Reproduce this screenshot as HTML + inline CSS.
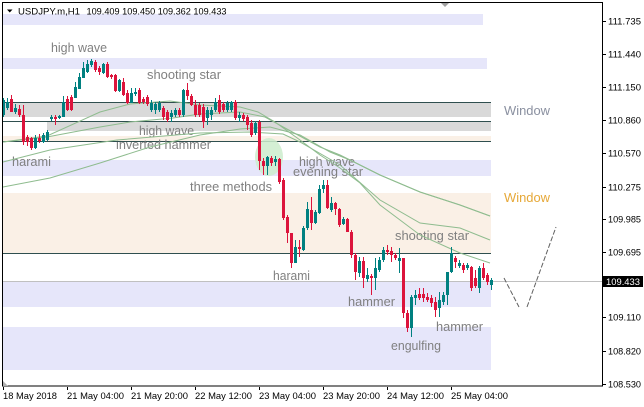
<!DOCTYPE html>
<html><head><meta charset="utf-8"><style>
html,body{margin:0;padding:0;background:#fff;}
svg{display:block;}
</style></head><body>
<svg width="644" height="407" viewBox="0 0 644 407" xmlns="http://www.w3.org/2000/svg">
<rect x="0" y="0" width="644" height="407" fill="#fff"/>
<!-- bands -->
<rect x="3" y="14" width="480" height="11" fill="#e6e6fa"/>
<rect x="3" y="58" width="484" height="11" fill="#e6e6fa"/>
<rect x="3" y="102" width="488" height="15" fill="#d9d9d9"/>
<rect x="47" y="122" width="444" height="9" fill="#d9d9d9"/>
<rect x="3" y="136" width="488" height="5" fill="#faf0e6"/>
<rect x="3" y="160" width="488" height="16" fill="#e6e6fa"/>
<rect x="3" y="193" width="488" height="60" fill="#faf0e6"/>
<rect x="3" y="282" width="488" height="25" fill="#e6e6fa"/>
<rect x="3" y="327" width="488" height="43" fill="#e6e6fa"/>
<!-- dark lines -->
<g stroke="#2f4f4f" stroke-width="1">
<line x1="3" y1="102.5" x2="491" y2="102.5"/>
<line x1="3" y1="121.5" x2="491" y2="121.5"/>
<line x1="3" y1="141.5" x2="491" y2="141.5"/>
<line x1="3" y1="253.5" x2="491" y2="253.5"/>
</g>
<line x1="3" y1="281.5" x2="603" y2="281.5" stroke="#c0c0c0" stroke-width="1"/>
<!-- green blob -->
<ellipse cx="269" cy="157" rx="14" ry="19" fill="#cdeccd" opacity="0.85"/>
<!-- labels -->
<g font-family="Liberation Sans, Arial, sans-serif" font-size="12.5" fill="#808080">
<text x="51" y="52" textLength="56" lengthAdjust="spacingAndGlyphs">high wave</text>
<text x="147" y="79" textLength="74" lengthAdjust="spacingAndGlyphs">shooting star</text>
<text x="139" y="135" textLength="55" lengthAdjust="spacingAndGlyphs">high wave</text>
<text x="116" y="149" textLength="95" lengthAdjust="spacingAndGlyphs">inverted hammer</text>
<text x="12" y="166" textLength="39" lengthAdjust="spacingAndGlyphs">harami</text>
<text x="299" y="166" textLength="56" lengthAdjust="spacingAndGlyphs">high wave</text>
<text x="293" y="176" textLength="70" lengthAdjust="spacingAndGlyphs">evening star</text>
<text x="190" y="191" textLength="82" lengthAdjust="spacingAndGlyphs">three methods</text>
<text x="273" y="280" textLength="37" lengthAdjust="spacingAndGlyphs">harami</text>
<text x="395" y="240" textLength="74" lengthAdjust="spacingAndGlyphs">shooting star</text>
<text x="348" y="306" textLength="47" lengthAdjust="spacingAndGlyphs">hammer</text>
<text x="436" y="331" textLength="47" lengthAdjust="spacingAndGlyphs">hammer</text>
<text x="391" y="350" textLength="50" lengthAdjust="spacingAndGlyphs">engulfing</text>
<text x="504" y="115" textLength="46" lengthAdjust="spacingAndGlyphs" fill="#8a90a0">Window</text>
<text x="504" y="202" textLength="46" lengthAdjust="spacingAndGlyphs" fill="#e6a838">Window</text>
</g>
<!-- moving averages -->
<g fill="none" stroke="#8fbc8f" stroke-width="1">
<polyline points="3,142 47,136 100,112 130,104 170,101 200,105 240,107 258,112 275,122 300,140 320,155 340,168 360,183 380,205 420,235 460,253 490,263"/>
<polyline points="3,142 47,137 100,127 130,122 173,118 200,114 240,112 265,117 285,128 320,147 340,155 380,175 420,192 460,205 490,216"/>
<polyline points="3,162 50,150 117,140 200,133 250,132 283,134 300,142 340,165 380,200 420,223 460,228 490,240"/>
<polyline points="3,187 50,178 100,163 150,147 200,135 240,129 270,127 300,135 330,152 350,160 380,175 420,192 460,205 490,216"/>
</g>
<!-- teal candles -->
<g fill="#008080">
<rect x="3" y="98" width="1" height="19"/><rect x="2" y="100" width="3" height="15"/>
<rect x="7" y="98" width="1" height="12"/><rect x="6" y="102" width="3" height="6"/>
<rect x="15" y="104" width="1" height="10"/><rect x="14" y="108" width="3" height="4"/>
<rect x="35" y="135" width="1" height="14"/><rect x="34" y="138" width="3" height="10"/>
<rect x="43" y="133" width="1" height="10"/><rect x="42" y="135" width="3" height="7"/>
<rect x="47" y="130" width="1" height="11"/><rect x="46" y="132" width="3" height="8"/>
<rect x="51" y="115" width="1" height="6"/><rect x="50" y="117" width="3" height="2"/>
<rect x="59" y="115" width="1" height="4"/><rect x="58" y="116" width="3" height="2"/>
<rect x="63" y="96" width="1" height="21"/><rect x="62" y="102" width="3" height="15"/>
<rect x="75" y="82" width="1" height="16"/><rect x="74" y="87" width="3" height="11"/>
<rect x="79" y="73" width="1" height="16"/><rect x="78" y="77" width="3" height="12"/>
<rect x="83" y="62" width="1" height="16"/><rect x="82" y="68" width="3" height="10"/>
<rect x="87" y="60" width="1" height="13"/><rect x="86" y="64" width="3" height="8"/>
<rect x="91" y="59" width="1" height="8"/><rect x="90" y="61" width="3" height="4"/>
<rect x="103" y="63" width="1" height="11"/><rect x="102" y="64" width="3" height="9"/>
<rect x="119" y="79" width="1" height="13"/><rect x="118" y="80" width="3" height="11"/>
<rect x="131" y="88" width="1" height="15"/><rect x="130" y="93" width="3" height="10"/>
<rect x="135" y="88" width="1" height="8"/><rect x="134" y="92" width="3" height="2"/>
<rect x="151" y="100" width="1" height="12"/><rect x="150" y="103" width="3" height="7"/>
<rect x="155" y="102" width="1" height="12"/><rect x="154" y="104" width="3" height="6"/>
<rect x="159" y="101" width="1" height="11"/><rect x="158" y="103" width="3" height="7"/>
<rect x="171" y="110" width="1" height="12"/><rect x="170" y="113" width="3" height="4"/>
<rect x="175" y="108" width="1" height="9"/><rect x="174" y="110" width="3" height="5"/>
<rect x="183" y="89" width="1" height="28"/><rect x="182" y="90" width="3" height="25"/>
<rect x="207" y="107" width="1" height="18"/><rect x="206" y="110" width="3" height="8"/>
<rect x="211" y="107" width="1" height="13"/><rect x="210" y="110" width="3" height="5"/>
<rect x="215" y="98" width="1" height="14"/><rect x="214" y="102" width="3" height="8"/>
<rect x="227" y="101" width="1" height="11"/><rect x="226" y="103" width="3" height="7"/>
<rect x="231" y="101" width="1" height="11"/><rect x="230" y="102" width="3" height="8"/>
<rect x="239" y="112" width="1" height="10"/><rect x="238" y="115" width="3" height="3"/>
<rect x="255" y="121" width="1" height="14"/><rect x="254" y="123" width="3" height="10"/>
<rect x="267" y="156" width="1" height="19"/><rect x="266" y="157" width="3" height="9"/>
<rect x="275" y="156" width="1" height="10"/><rect x="274" y="159" width="3" height="3"/>
<rect x="295" y="240" width="1" height="23"/><rect x="294" y="247" width="3" height="16"/>
<rect x="303" y="226" width="1" height="25"/><rect x="302" y="228" width="3" height="22"/>
<rect x="307" y="202" width="1" height="28"/><rect x="306" y="209" width="3" height="19"/>
<rect x="315" y="210" width="1" height="14"/><rect x="314" y="212" width="3" height="11"/>
<rect x="319" y="185" width="1" height="29"/><rect x="318" y="189" width="3" height="24"/>
<rect x="323" y="180" width="1" height="13"/><rect x="322" y="185" width="3" height="4"/>
<rect x="331" y="197" width="1" height="15"/><rect x="330" y="203" width="3" height="7"/>
<rect x="343" y="217" width="1" height="8"/><rect x="342" y="219" width="3" height="5"/>
<rect x="359" y="257" width="1" height="20"/><rect x="358" y="261" width="3" height="12"/>
<rect x="367" y="268" width="1" height="14"/><rect x="366" y="275" width="3" height="4"/>
<rect x="375" y="258" width="1" height="32"/><rect x="374" y="268" width="3" height="10"/>
<rect x="379" y="257" width="1" height="15"/><rect x="378" y="260" width="3" height="10"/>
<rect x="383" y="247" width="1" height="15"/><rect x="382" y="250" width="3" height="10"/>
<rect x="399" y="248" width="1" height="25"/><rect x="398" y="258" width="3" height="3"/>
<rect x="411" y="295" width="1" height="42"/><rect x="410" y="297" width="3" height="31"/>
<rect x="415" y="290" width="1" height="15"/><rect x="414" y="295" width="3" height="3"/>
<rect x="439" y="292" width="1" height="25"/><rect x="438" y="300" width="3" height="8"/>
<rect x="443" y="292" width="1" height="13"/><rect x="442" y="295" width="3" height="7"/>
<rect x="447" y="272" width="1" height="33"/><rect x="446" y="272" width="3" height="23"/>
<rect x="451" y="247" width="1" height="26"/><rect x="450" y="253" width="3" height="19"/>
<rect x="459" y="260" width="1" height="8"/><rect x="458" y="263" width="3" height="3"/>
<rect x="467" y="263" width="1" height="7"/><rect x="466" y="265" width="3" height="3"/>
<rect x="479" y="266" width="1" height="27"/><rect x="478" y="268" width="3" height="20"/>
<rect x="491" y="278" width="1" height="12"/><rect x="490" y="280" width="3" height="5"/>
</g>
<!-- crimson candles -->
<g fill="#dc143c">
<rect x="11" y="95" width="1" height="17"/><rect x="10" y="99" width="3" height="13"/>
<rect x="19" y="105" width="1" height="12"/><rect x="18" y="109" width="3" height="6"/>
<rect x="23" y="105" width="1" height="40"/><rect x="22" y="115" width="3" height="27"/>
<rect x="27" y="135" width="1" height="11"/><rect x="26" y="137" width="3" height="5"/>
<rect x="31" y="137" width="1" height="13"/><rect x="30" y="138" width="3" height="10"/>
<rect x="39" y="134" width="1" height="9"/><rect x="38" y="138" width="3" height="3"/>
<rect x="55" y="115" width="1" height="10"/><rect x="54" y="117" width="3" height="2"/>
<rect x="67" y="96" width="1" height="15"/><rect x="66" y="99" width="3" height="11"/>
<rect x="71" y="95" width="1" height="16"/><rect x="70" y="97" width="3" height="13"/>
<rect x="95" y="60" width="1" height="12"/><rect x="94" y="62" width="3" height="8"/>
<rect x="99" y="66" width="1" height="9"/><rect x="98" y="68" width="3" height="4"/>
<rect x="107" y="62" width="1" height="16"/><rect x="106" y="64" width="3" height="13"/>
<rect x="111" y="74" width="1" height="5"/><rect x="110" y="75" width="3" height="2"/>
<rect x="115" y="74" width="1" height="18"/><rect x="114" y="75" width="3" height="16"/>
<rect x="123" y="78" width="1" height="18"/><rect x="122" y="82" width="3" height="13"/>
<rect x="127" y="90" width="1" height="14"/><rect x="126" y="93" width="3" height="10"/>
<rect x="139" y="88" width="1" height="16"/><rect x="138" y="90" width="3" height="13"/>
<rect x="143" y="97" width="1" height="7"/><rect x="142" y="99" width="3" height="3"/>
<rect x="147" y="95" width="1" height="11"/><rect x="146" y="97" width="3" height="7"/>
<rect x="163" y="106" width="1" height="14"/><rect x="162" y="108" width="3" height="9"/>
<rect x="167" y="110" width="1" height="12"/><rect x="166" y="112" width="3" height="8"/>
<rect x="179" y="108" width="1" height="9"/><rect x="178" y="110" width="3" height="5"/>
<rect x="187" y="83" width="1" height="17"/><rect x="186" y="90" width="3" height="6"/>
<rect x="191" y="94" width="1" height="12"/><rect x="190" y="96" width="3" height="9"/>
<rect x="195" y="100" width="1" height="17"/><rect x="194" y="105" width="3" height="10"/>
<rect x="199" y="103" width="1" height="14"/><rect x="198" y="105" width="3" height="10"/>
<rect x="203" y="104" width="1" height="24"/><rect x="202" y="107" width="3" height="15"/>
<rect x="219" y="95" width="1" height="19"/><rect x="218" y="100" width="3" height="12"/>
<rect x="223" y="102" width="1" height="10"/><rect x="222" y="104" width="3" height="6"/>
<rect x="235" y="100" width="1" height="20"/><rect x="234" y="102" width="3" height="16"/>
<rect x="243" y="113" width="1" height="8"/><rect x="242" y="115" width="3" height="4"/>
<rect x="247" y="115" width="1" height="15"/><rect x="246" y="117" width="3" height="8"/>
<rect x="251" y="120" width="1" height="17"/><rect x="250" y="123" width="3" height="12"/>
<rect x="259" y="120" width="1" height="50"/><rect x="258" y="122" width="3" height="39"/>
<rect x="263" y="158" width="1" height="17"/><rect x="262" y="161" width="3" height="5"/>
<rect x="271" y="156" width="1" height="10"/><rect x="270" y="158" width="3" height="5"/>
<rect x="279" y="158" width="1" height="26"/><rect x="278" y="159" width="3" height="23"/>
<rect x="283" y="178" width="1" height="42"/><rect x="282" y="180" width="3" height="38"/>
<rect x="287" y="215" width="1" height="28"/><rect x="286" y="217" width="3" height="16"/>
<rect x="291" y="233" width="1" height="35"/><rect x="290" y="233" width="3" height="30"/>
<rect x="299" y="240" width="1" height="17"/><rect x="298" y="247" width="3" height="2"/>
<rect x="311" y="197" width="1" height="33"/><rect x="310" y="210" width="3" height="13"/>
<rect x="327" y="180" width="1" height="29"/><rect x="326" y="185" width="3" height="23"/>
<rect x="335" y="202" width="1" height="13"/><rect x="334" y="203" width="3" height="6"/>
<rect x="339" y="208" width="1" height="19"/><rect x="338" y="209" width="3" height="16"/>
<rect x="347" y="218" width="1" height="14"/><rect x="346" y="219" width="3" height="13"/>
<rect x="351" y="230" width="1" height="28"/><rect x="350" y="232" width="3" height="23"/>
<rect x="355" y="253" width="1" height="27"/><rect x="354" y="255" width="3" height="17"/>
<rect x="363" y="257" width="1" height="31"/><rect x="362" y="261" width="3" height="17"/>
<rect x="371" y="274" width="1" height="21"/><rect x="370" y="276" width="3" height="2"/>
<rect x="387" y="245" width="1" height="10"/><rect x="386" y="250" width="3" height="2"/>
<rect x="391" y="247" width="1" height="15"/><rect x="390" y="251" width="3" height="4"/>
<rect x="395" y="253" width="1" height="7"/><rect x="394" y="255" width="3" height="3"/>
<rect x="403" y="258" width="1" height="60"/><rect x="402" y="258" width="3" height="55"/>
<rect x="407" y="310" width="1" height="22"/><rect x="406" y="313" width="3" height="15"/>
<rect x="419" y="288" width="1" height="12"/><rect x="418" y="294" width="3" height="4"/>
<rect x="423" y="288" width="1" height="14"/><rect x="422" y="294" width="3" height="4"/>
<rect x="427" y="293" width="1" height="9"/><rect x="426" y="297" width="3" height="3"/>
<rect x="431" y="295" width="1" height="12"/><rect x="430" y="298" width="3" height="5"/>
<rect x="435" y="297" width="1" height="20"/><rect x="434" y="302" width="3" height="8"/>
<rect x="455" y="256" width="1" height="12"/><rect x="454" y="258" width="3" height="4"/>
<rect x="463" y="263" width="1" height="10"/><rect x="462" y="265" width="3" height="5"/>
<rect x="471" y="266" width="1" height="25"/><rect x="470" y="267" width="3" height="21"/>
<rect x="475" y="270" width="1" height="18"/><rect x="474" y="278" width="3" height="8"/>
<rect x="483" y="263" width="1" height="17"/><rect x="482" y="268" width="3" height="10"/>
<rect x="487" y="273" width="1" height="12"/><rect x="486" y="275" width="3" height="7"/>
</g>
<!-- projection dashed -->
<g stroke="#606060" stroke-width="1" stroke-dasharray="5,2" fill="none">
<line x1="504" y1="278" x2="519" y2="307"/>
<line x1="527" y1="307" x2="556" y2="227"/>
</g>
<!-- frame -->
<rect x="2.5" y="2.5" width="600" height="383.5" fill="none" stroke="#000" stroke-width="1"/>
<polygon points="441,3 449,3 445,7" fill="#a0a0a0"/>
<polygon points="3,381 3,386 8,386" fill="#b0b0b0"/>
<!-- header -->
<polygon points="7,9.5 12.5,9.5 9.75,12.5" fill="#000"/>
<g font-family="Liberation Sans, Arial, sans-serif" font-size="9.5" fill="#000">
<text x="18" y="14.5" textLength="62" lengthAdjust="spacingAndGlyphs">USDJPY.m,H1</text>
<text x="86.5" y="14.5" textLength="140" lengthAdjust="spacingAndGlyphs">109.409 109.450 109.362 109.433</text>
</g>
<!-- price axis -->
<g fill="#000">
<rect x="603" y="21" width="3" height="1"/>
<rect x="603" y="54" width="3" height="1"/>
<rect x="603" y="87" width="3" height="1"/>
<rect x="603" y="120" width="3" height="1"/>
<rect x="603" y="153" width="3" height="1"/>
<rect x="603" y="187" width="3" height="1"/>
<rect x="603" y="219" width="3" height="1"/>
<rect x="603" y="252" width="3" height="1"/>
<rect x="603" y="317" width="3" height="1"/>
<rect x="603" y="351" width="3" height="1"/>
<rect x="603" y="384" width="3" height="1"/>
</g>
<g font-family="Liberation Sans, Arial, sans-serif" font-size="9.5" fill="#000">
<text x="608" y="24.5" textLength="33" lengthAdjust="spacingAndGlyphs">111.735</text>
<text x="608" y="57.5" textLength="33" lengthAdjust="spacingAndGlyphs">111.440</text>
<text x="608" y="90.5" textLength="33" lengthAdjust="spacingAndGlyphs">111.150</text>
<text x="608" y="123.5" textLength="33" lengthAdjust="spacingAndGlyphs">110.860</text>
<text x="608" y="156.5" textLength="33" lengthAdjust="spacingAndGlyphs">110.570</text>
<text x="608" y="190.5" textLength="33" lengthAdjust="spacingAndGlyphs">110.275</text>
<text x="608" y="222.5" textLength="33" lengthAdjust="spacingAndGlyphs">109.985</text>
<text x="608" y="255.5" textLength="33" lengthAdjust="spacingAndGlyphs">109.695</text>
<text x="608" y="320.5" textLength="33" lengthAdjust="spacingAndGlyphs">109.110</text>
<text x="608" y="354.5" textLength="33" lengthAdjust="spacingAndGlyphs">108.820</text>
<text x="608" y="387.5" textLength="33" lengthAdjust="spacingAndGlyphs">108.530</text>
</g>
<rect x="603" y="276" width="40" height="11" fill="#000"/>
<text x="606" y="285" font-family="Liberation Sans, Arial, sans-serif" font-size="9.5" fill="#fff" textLength="34" lengthAdjust="spacingAndGlyphs">109.433</text>
<!-- time axis -->
<g fill="#000">
<rect x="3" y="387" width="1" height="3"/>
<rect x="67" y="387" width="1" height="3"/>
<rect x="131" y="387" width="1" height="3"/>
<rect x="195" y="387" width="1" height="3"/>
<rect x="259" y="387" width="1" height="3"/>
<rect x="323" y="387" width="1" height="3"/>
<rect x="387" y="387" width="1" height="3"/>
<rect x="451" y="387" width="1" height="3"/>
</g>
<g font-family="Liberation Sans, Arial, sans-serif" font-size="9.5" fill="#000">
<text x="3" y="399" textLength="54" lengthAdjust="spacingAndGlyphs">18 May 2018</text>
<text x="67" y="399" textLength="57" lengthAdjust="spacingAndGlyphs">21 May 04:00</text>
<text x="131" y="399" textLength="57" lengthAdjust="spacingAndGlyphs">21 May 20:00</text>
<text x="195" y="399" textLength="57" lengthAdjust="spacingAndGlyphs">22 May 12:00</text>
<text x="259" y="399" textLength="57" lengthAdjust="spacingAndGlyphs">23 May 04:00</text>
<text x="323" y="399" textLength="57" lengthAdjust="spacingAndGlyphs">23 May 20:00</text>
<text x="387" y="399" textLength="57" lengthAdjust="spacingAndGlyphs">24 May 12:00</text>
<text x="451" y="399" textLength="57" lengthAdjust="spacingAndGlyphs">25 May 04:00</text>
</g>
</svg>
</body></html>
